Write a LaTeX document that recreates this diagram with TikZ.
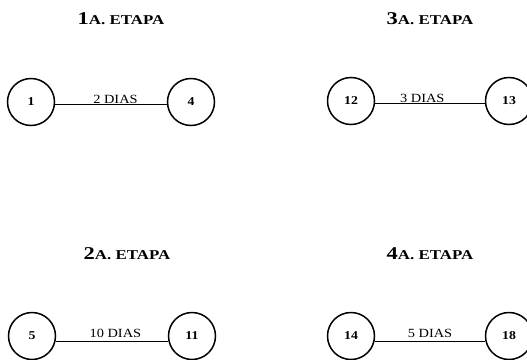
\documentclass[tikz,border=0pt]{standalone}
\usepackage{fontspec}
\setmainfont{Liberation Serif}
\newfontfamily\stagefont[FakeStretch=1.25]{Liberation Serif}
\newfontfamily\labelfont[FakeStretch=1.15]{Liberation Serif}
\newcommand{\stagetitle}[1]{{\fontsize{18}{20}\selectfont #1}{\fontsize{13.5}{15}\selectfont A. ETAPA}}
\begin{document}
\begin{tikzpicture}[x=1pt,y=-1pt,
  event/.style={circle, draw, line width=1.5pt, minimum size=47pt, inner sep=0pt,
                font=\labelfont\bfseries\fontsize{12}{14}\selectfont},
  activity/.style={line width=1pt},
  duration/.style={font=\labelfont\fontsize{12.5}{14}\selectfont, inner sep=0pt},
  stage/.style={font=\stagefont\bfseries, anchor=base, inner sep=0pt}]
\useasboundingbox (0,0) rectangle (527,359);
\clip (0,0) rectangle (527,359);

% stage titles
\node[stage] (t1) at (121,24) {\stagetitle{1}};
\node[stage] (t3) at (430,24) {\stagetitle{3}};
\node[stage] (t2) at (127,259) {\stagetitle{2}};
\node[stage] (t4) at (430,259) {\stagetitle{4}};

% events
\node[event] (n1)  at (31,102)  {1};
\node[event] (n4)  at (191,102) {4};
\node[event] (n12) at (351,101) {12};
\node[event] (n13) at (509,101) {13};
\node[event] (n5)  at (32,336)  {5};
\node[event] (n11) at (192,336) {11};
\node[event] (n14) at (351,336) {14};
\node[event] (n18) at (509,336) {18};

% activities with their durations
\draw[activity] (n1.-7)  -- node[duration, pos=0.54, above=0.5pt] {2 DIAS} (n4.187);
\draw[activity] (n12.-7) -- node[duration, pos=0.43, above=0.5pt] {3 DIAS} (n13.187);
\draw[activity] (n5.-14) -- node[duration, pos=0.53, above=4pt] {10 DIAS} (n11.194);
\draw[activity] (n14.-14) -- node[duration, pos=0.5, above=4pt] {5 DIAS} (n18.194);
\end{tikzpicture}
\end{document}
